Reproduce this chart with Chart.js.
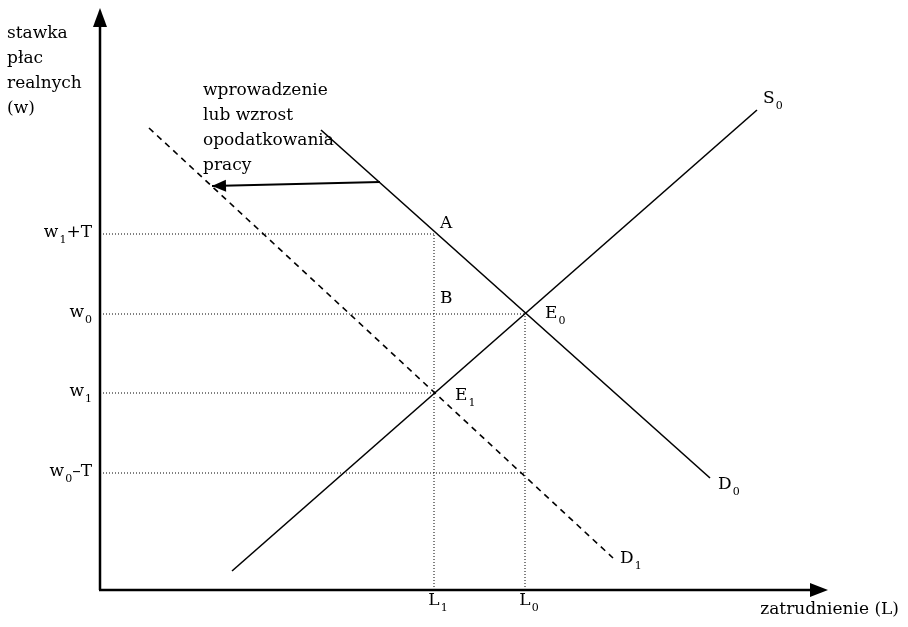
<!DOCTYPE html>
<html><head><meta charset="utf-8">
<script src="https://cdn.jsdelivr.net/npm/chart.js@4"></script>
<style>html,body{margin:0;padding:0;background:#fff}canvas{display:block}</style>
</head><body>
<canvas id="c" width="908" height="627"></canvas>
<script>
// Data (abstract units: employment L on x, real wage w on y)
const supplyS0 = [[132, 19], [657, 480]];
const demandD0 = [[221, 460], [610, 112]];
const demandD1 = [[49, 462], [513, 32]];
const taxArrow = [[280, 408], [112, 404]];

const wageTickLabels = ['w_1+T', 'w_0', 'w_1', 'w_0–T'];
const wageTickValues = [356, 276, 197, 117];
const wageGuideEnds = [334, 425, 334, 425];

const empTickLabels = ['L_1', 'L_0'];
const empTickValues = [334, 425];
const empGuideTops = [356, 276];

const pointLabels = ['A', 'B', 'E_0', 'E_1', 'S_0', 'D_0', 'D_1'];
const pointLabelX = [340, 340, 445, 355, 663, 618, 520];
const pointLabelY = [362, 287, 272, 190, 487, 101, 27];

const yAxisTitle = ['stawka', 'płac', 'realnych', '(w)'];
const xAxisTitle = 'zatrudnienie (L)';
const annotation = ['wprowadzenie', 'lub wzrost', 'opodatkowania', 'pracy'];

const axisXMax = 728;
const axisYMax = 582;

const toPts = arr => arr.map(p => ({x: p[0], y: p[1]}));
const FONT = '"DejaVu Serif", serif';
const FS = 17;

const datasets = [];
wageTickValues.forEach((v, i) => datasets.push({
  data: [{x: 0, y: v}, {x: wageGuideEnds[i], y: v}],
  borderColor: '#000', borderWidth: 1, borderDash: [1, 2], showLine: true, pointRadius: 0
}));
empTickValues.forEach((v, i) => datasets.push({
  data: [{x: v, y: 0}, {x: v, y: empGuideTops[i]}],
  borderColor: '#000', borderWidth: 1, borderDash: [1, 2], showLine: true, pointRadius: 0
}));
datasets.push({data: toPts(supplyS0), borderColor: '#000', borderWidth: 1.6, showLine: true, pointRadius: 0});
datasets.push({data: toPts(demandD0), borderColor: '#000', borderWidth: 1.6, showLine: true, pointRadius: 0});
datasets.push({data: toPts(demandD1), borderColor: '#000', borderWidth: 1.6, borderDash: [6, 5], showLine: true, pointRadius: 0});
datasets.push({data: toPts(taxArrow), borderColor: '#000', borderWidth: 2.2, showLine: true, pointRadius: 0});

function drawSubText(ctx, str, x, y, align, size) {
  const parts = [];
  for (let i = 0; i < str.length; i++) {
    if (str[i] === '_' && i + 1 < str.length) { parts.push({t: str[i + 1], sub: true}); i++; }
    else {
      if (parts.length && !parts[parts.length - 1].sub) parts[parts.length - 1].t += str[i];
      else parts.push({t: str[i], sub: false});
    }
  }
  const big = size + 'px ' + FONT, small = Math.round(size * 0.62) + 'px ' + FONT;
  let w = 0;
  parts.forEach(p => { ctx.font = p.sub ? small : big; p.w = ctx.measureText(p.t).width + (p.sub ? 1 : 0); w += p.w; });
  let cx = align === 'right' ? x - w : align === 'center' ? x - w / 2 : x;
  ctx.textAlign = 'left';
  ctx.textBaseline = 'alphabetic';
  parts.forEach(p => {
    ctx.font = p.sub ? small : big;
    ctx.fillText(p.t, cx + (p.sub ? 1 : 0), y + (p.sub ? 6 : 0));
    cx += p.w;
  });
}

const diagramPlugin = {
  id: 'diagram',
  afterDatasetsDraw(chart) {
    const ctx = chart.ctx;
    const xs = chart.scales.x, ys = chart.scales.y;
    const X = v => xs.getPixelForValue(v), Y = v => ys.getPixelForValue(v);
    ctx.save();
    ctx.fillStyle = '#000';
    ctx.strokeStyle = '#000';
    ctx.lineWidth = 2.5;
    ctx.beginPath();
    ctx.moveTo(X(0), Y(0)); ctx.lineTo(X(0), Y(axisYMax) + 14);
    ctx.moveTo(X(0) - 1, Y(0)); ctx.lineTo(X(axisXMax) - 14, Y(0));
    ctx.stroke();
    ctx.beginPath();
    ctx.moveTo(X(0), Y(axisYMax)); ctx.lineTo(X(0) - 7, Y(axisYMax) + 19); ctx.lineTo(X(0) + 7, Y(axisYMax) + 19); ctx.closePath();
    ctx.fill();
    ctx.beginPath();
    ctx.moveTo(X(axisXMax), Y(0)); ctx.lineTo(X(axisXMax) - 18, Y(0) - 7); ctx.lineTo(X(axisXMax) - 18, Y(0) + 7); ctx.closePath();
    ctx.fill();
    const a0 = taxArrow[0], a1 = taxArrow[1];
    const tx = X(a1[0]), ty = Y(a1[1]);
    const ang = Math.atan2(ty - Y(a0[1]), tx - X(a0[0]));
    ctx.beginPath();
    ctx.moveTo(tx, ty);
    ctx.lineTo(tx - 14 * Math.cos(ang) + 6 * Math.sin(ang), ty - 14 * Math.sin(ang) - 6 * Math.cos(ang));
    ctx.lineTo(tx - 14 * Math.cos(ang) - 6 * Math.sin(ang), ty - 14 * Math.sin(ang) + 6 * Math.cos(ang));
    ctx.closePath(); ctx.fill();
    wageTickValues.forEach((v, i) => drawSubText(ctx, wageTickLabels[i], X(0) - 8, Y(v) + 3, 'right', FS));
    empTickValues.forEach((v, i) => drawSubText(ctx, empTickLabels[i], X(v) + 4, Y(0) + 15, 'center', FS));
    pointLabels.forEach((t, i) => drawSubText(ctx, t, X(pointLabelX[i]), Y(pointLabelY[i]), 'left', FS));
    ctx.font = FS + 'px ' + FONT;
    ctx.textAlign = 'left'; ctx.textBaseline = 'alphabetic';
    yAxisTitle.forEach((t, i) => ctx.fillText(t, 7, 38 + i * 25));
    annotation.forEach((t, i) => ctx.fillText(t, 203, 95 + i * 25));
    ctx.textAlign = 'right';
    ctx.fillText(xAxisTitle, 899, 614);
    ctx.restore();
  }
};

new Chart(document.getElementById('c'), {
  type: 'scatter',
  data: {datasets},
  options: {
    responsive: false,
    animation: false,
    layout: {padding: {left: 100, right: 8, top: 0, bottom: 37}},
    plugins: {legend: {display: false}, tooltip: {enabled: false}},
    scales: {
      x: {type: 'linear', min: 0, max: 800, display: false},
      y: {type: 'linear', min: 0, max: 590, display: false}
    }
  },
  plugins: [diagramPlugin]
});
</script>
</body></html>
